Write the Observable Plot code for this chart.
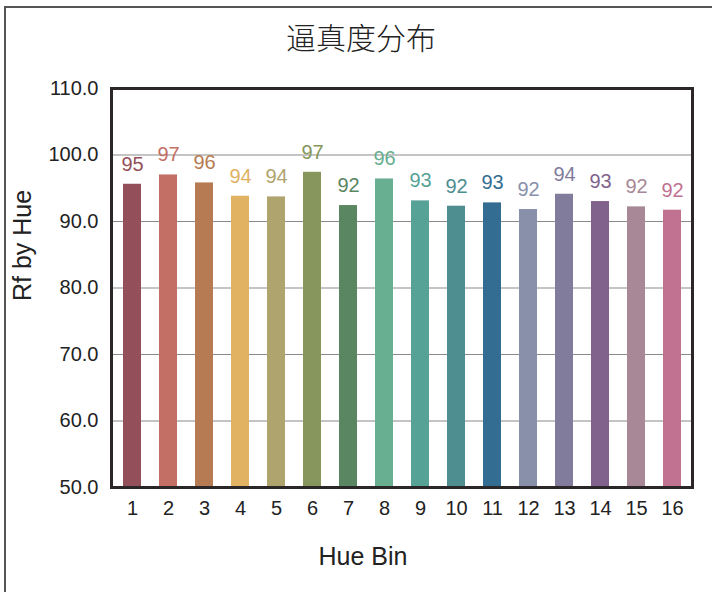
<!DOCTYPE html>
<html>
<head>
<meta charset="utf-8">
<script src="https://cdn.jsdelivr.net/npm/d3@7"></script>
<script src="https://cdn.jsdelivr.net/npm/@observablehq/plot@0.6"></script>
<style>
  html, body { margin: 0; padding: 0; background: #fff; }
  #wrap { position: relative; width: 712px; height: 592px; overflow: hidden; background: #fff; }
  #border { position: absolute; left: 4px; top: 6px; width: 800px; height: 700px;
            border-left: 2px solid #555; border-top: 2px solid #555; }
  #title { position: absolute; left: 0; top: 16px; width: 722px; text-align: center;
           font-family: "Noto Sans CJK SC", sans-serif; font-weight: 300; font-size: 30px;
           color: #222; line-height: 40px; }
  #chart { position: absolute; left: 0; top: 0; }
</style>
</head>
<body>
<div id="wrap">
  <div id="border"></div>
  <div id="title">逼真度分布</div>
  <div id="chart"></div>
</div>
<script>
const bins = [1, 2, 3, 4, 5, 6, 7, 8, 9, 10, 11, 12, 13, 14, 15, 16];
const rfValues = [95.6, 97.0, 95.8, 93.8, 93.7, 97.4, 92.4, 96.4, 93.1, 92.3, 92.8, 91.8, 94.1, 93.0, 92.2, 91.7];
const valueLabels = ["95", "97", "96", "94", "94", "97", "92", "96", "93", "92", "93", "92", "94", "93", "92", "92"];
const barColors = ["#93505A", "#C46F66", "#B67B52", "#E0B262", "#B0A46E", "#86965C", "#5A8662", "#68AE90",
                   "#56A296", "#4E8D90", "#336E92", "#8890AA", "#827C9C", "#80628C", "#A88896", "#C07290"];
const yTicks = [50, 60, 70, 80, 90, 100, 110];
const gridTicks = [60, 70, 80, 90, 100];
const xTitle = "Hue Bin";
const yTitle = "Rf by Hue";
const yBase = 50;

const data = bins.map((b, i) => ({bin: b, base: yBase, rf: rfValues[i], label: valueLabels[i], color: barColors[i]}));

const font = "'Liberation Sans', Arial, Helvetica, sans-serif";

const chart = Plot.plot({
  width: 712,
  height: 592,
  marginTop: 88,
  marginBottom: 105,
  marginLeft: 111,
  marginRight: 20,
  style: { fontFamily: font, background: "transparent", color: "#222" },
  x: { type: "band", domain: bins, paddingInner: 0.5, paddingOuter: 0.25, label: null },
  y: { domain: [50, 110], label: null },
  color: { type: "identity" },
  marks: [
    Plot.gridY(gridTicks, { stroke: "#8a8a8a", strokeOpacity: 1, strokeWidth: 1.2 }),
    Plot.barY(data, { x: "bin", y1: "base", y2: "rf", fill: "color" }),
    Plot.text(data, { x: "bin", y: "rf", text: "label", fill: "color", dy: -20, fontSize: 20, lineAnchor: "middle" }),
    Plot.frame({ stroke: "#2b2728", strokeWidth: 3 }),
    Plot.axisY({ ticks: yTicks, tickFormat: d => d.toFixed(1), tickSize: 0, tickPadding: 13, fontSize: 20, label: null, fill: "#222" }),
    Plot.axisX({ tickSize: 0, tickPadding: 13, fontSize: 20, label: null, fill: "#222" }),
    Plot.text([yTitle], { frameAnchor: "left", dx: -89, dy: 13, rotate: -90, fontSize: 25, fill: "#222", text: d => d, lineAnchor: "middle" }),
    Plot.text([xTitle], { frameAnchor: "bottom", dx: -39, dy: 69, fontSize: 25, fill: "#222", text: d => d, lineAnchor: "middle" })
  ]
});
document.getElementById("chart").appendChild(chart);
</script>
</body>
</html>
